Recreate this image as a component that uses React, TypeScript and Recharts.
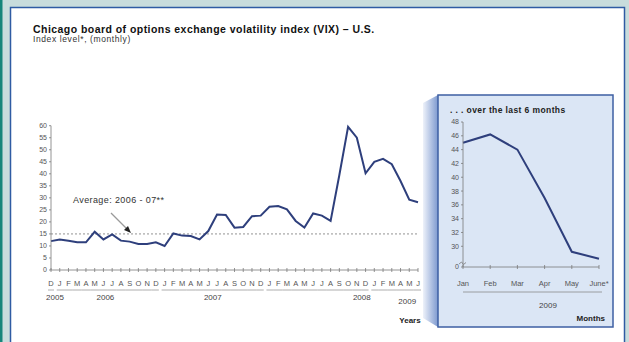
import React from 'react';
import {
  LineChart,
  Line,
  XAxis,
  YAxis,
  ReferenceLine
} from 'recharts';

// Monthly VIX index level, Dec 2005 - Jun 2009
const MONTH_INITIALS = ['J', 'F', 'M', 'A', 'M', 'J', 'J', 'A', 'S', 'O', 'N', 'D'];
const YEARS = ['2005', '2006', '2007', '2008', '2009'];
const VIX_2005 = [12.0]; // December only
const VIX_2006 = [12.7, 12.2, 11.5, 11.5, 15.9, 12.7, 14.8, 12.2, 11.8, 10.8, 10.8, 11.5];
const VIX_2007 = [10.0, 15.2, 14.3, 14.1, 12.7, 16.2, 23.1, 22.9, 17.6, 17.9, 22.4, 22.6];
const VIX_2008 = [26.3, 26.6, 25.2, 20.4, 17.7, 23.5, 22.6, 20.4, 39.5, 59.5, 55.0, 40.2];
const VIX_2009 = [45.0, 46.2, 44.0, 37.0, 29.2, 28.2];
const AVERAGE_2006_07 = 15;

const MAIN_TICKS = [0, 5, 10, 15, 20, 25, 30, 35, 40, 45, 50, 55, 60];

// inset: first half of 2009, on a broken axis (bottom tick reads 0)
const INSET_MONTHS = ['Jan', 'Feb', 'Mar', 'Apr', 'May', 'June*'];
const INSET_TICKS = [27, 30, 32, 34, 36, 38, 40, 42, 44, 46, 48];

const FONT = '"Liberation Sans", Arial, Helvetica, sans-serif';
const NAVY = '#2e3f7c';
const AXIS = '#7a7a7a';
const LABEL = '#555';

type Row = { key: string; letter: string; year: string; vix: number };

const rows: Row[] = [];
[VIX_2005, VIX_2006, VIX_2007, VIX_2008, VIX_2009].forEach((values, yi) => {
  const firstMonth = yi === 0 ? 11 : 0;
  values.forEach((v, k) => {
    const m = firstMonth + k;
    rows.push({ key: `${YEARS[yi]}-${m + 1}`, letter: MONTH_INITIALS[m], year: YEARS[yi], vix: v });
  });
});

const insetRows = INSET_MONTHS.map((m, i) => ({ month: m, vix: VIX_2009[i] }));

// main plot frame
const PLOT_LEFT = 51;
const PLOT_RIGHT = 418;
const PLOT_TOP = 125.7;
const PLOT_BOTTOM = 270;
const STEP = (PLOT_RIGHT - PLOT_LEFT) / (rows.length - 1);

// where each year caption sits relative to a month tick
const YEAR_CAPTION: Record<string, { at: number; dx: number; dy: number }> = {
  '2005': { at: 0, dx: 4, dy: 0 },
  '2006': { at: 6, dx: 2, dy: 0 },
  '2007': { at: 18, dx: 4.5, dy: 0 },
  '2008': { at: 35, dx: 5, dy: 0 },
  '2009': { at: 41, dx: -2, dy: 4 }
};

function MonthTick(props: any) {
  const { x, payload } = props;
  const i = payload.index ?? props.index;
  const row = rows[i];
  if (!row) return null;
  const first = i === 0 || rows[i - 1].year !== row.year;
  const last = i === rows.length - 1 || rows[i + 1].year !== row.year;
  const x1 = first ? x - 3 : x - STEP / 2;
  const x2 = last ? x + 3 : x + STEP / 2;
  const cap = YEAR_CAPTION[row.year];
  return (
    <g>
      <line x1={x} x2={x} y1={PLOT_BOTTOM - 2} y2={PLOT_BOTTOM + 2} stroke={AXIS} strokeWidth={0.8} />
      <text x={x} y={PLOT_BOTTOM + 15.5} textAnchor="middle" fontSize={7.5} fill={LABEL} fontFamily={FONT}>
        {row.letter}
      </text>
      <line x1={x1} x2={x2} y1={PLOT_BOTTOM + 20} y2={PLOT_BOTTOM + 20} stroke="#9a9a9a" strokeWidth={0.8} />
      {cap && cap.at === i && (
        <text x={x + cap.dx} y={PLOT_BOTTOM + 29.5 + cap.dy} textAnchor="middle" fontSize={8} fill="#444" fontFamily={FONT}>
          {row.year}
        </text>
      )}
    </g>
  );
}

// inset frame, local to the inset chart
const IN_W = 175;
const IN_H = 232;
const IN_LEFT = 25;
const IN_RIGHT = 161;
const IN_TOP = 27;
const IN_BOTTOM = 172;

function InsetMonthTick(props: any) {
  const { x, payload } = props;
  return (
    <g>
      <line x1={x} x2={x} y1={IN_BOTTOM - 2} y2={IN_BOTTOM + 2} stroke={AXIS} strokeWidth={0.8} />
      <text x={x} y={IN_BOTTOM + 18.5} textAnchor="middle" fontSize={7.5} fill={LABEL} fontFamily={FONT}>
        {payload.value}
      </text>
    </g>
  );
}

export default function App() {
  return (
    <div style={{ position: 'absolute', left: 0, top: 0, width: 629, height: 342, overflow: 'hidden', fontFamily: FONT }}>
      {/* frame, titles and inset panel backdrop */}
      <svg width={629} height={342} style={{ position: 'absolute', left: 0, top: 0 }}>
        <defs>
          <linearGradient id="callout" x1="0" x2="1" y1="0" y2="0">
            <stop offset="0" stopColor="#eef2fa" />
            <stop offset="1" stopColor="#7d99cf" />
          </linearGradient>
        </defs>
        <rect x={0} y={0} width={629} height={342} fill="#c8dcdc" />
        <rect x={0} y={0} width={2.5} height={342} fill="#16857a" />
        <rect x={10.5} y={7.5} width={614} height={340} fill="#fff" stroke="#2f5ba3" strokeWidth={1.5} />
        <text x={33} y={33} fontSize={10.5} letterSpacing={0.45} fontWeight="bold" fill="#111">
          Chicago board of options exchange volatility index (VIX) – U.S.
        </text>
        <text x={33} y={42} fontSize={8.5} letterSpacing={0.6} fill="#333">
          Index level*, (monthly)
        </text>
        <polygon points="423,103 438,95 438,327 423,318" fill="url(#callout)" />
        <rect x={438} y={95} width={175} height={232} fill="#dbe6f5" stroke="#3e5fa3" strokeWidth={1.5} />
        <text x={450} y={113} fontSize={8.5} letterSpacing={0.4} fontWeight="bold" fill="#222">
          . . . over the last 6 months
        </text>
        <line x1={463} x2={602} y1={292} y2={292} stroke="#8a8a8a" strokeWidth={0.8} />
        <text x={548} y={307.5} textAnchor="middle" fontSize={8} fill="#444">2009</text>
        <text x={605} y={320.5} textAnchor="end" fontSize={8} fontWeight="bold" fill="#222">Months</text>
        <text x={410} y={322.5} textAnchor="middle" fontSize={8} fontWeight="bold" fill="#222">Years</text>
      </svg>

      <div style={{ position: 'absolute', left: 0, top: 0 }}>
        <LineChart
          width={430}
          height={342}
          data={rows}
          margin={{ top: PLOT_TOP, right: 430 - PLOT_RIGHT, bottom: 342 - PLOT_BOTTOM - 30, left: PLOT_LEFT - 20 }}
        >
          <XAxis
            dataKey="key"
            interval={0}
            height={30}
            tickLine={false}
            tickSize={0}
            tickMargin={0}
            axisLine={{ stroke: AXIS, strokeWidth: 0.8 }}
            tick={<MonthTick />}
          />
          <YAxis
            width={20}
            domain={[0, 60]}
            ticks={MAIN_TICKS}
            interval={0}
            tickSize={2}
            tickMargin={2}
            axisLine={{ stroke: AXIS, strokeWidth: 0.8 }}
            tickLine={{ stroke: AXIS, strokeWidth: 0.8 }}
            tick={{ fontSize: 7, fill: LABEL, fontFamily: FONT }}
          />
          <ReferenceLine y={AVERAGE_2006_07} stroke="#777" strokeWidth={0.8} strokeDasharray="2 2" />
          <Line
            type="linear"
            dataKey="vix"
            stroke={NAVY}
            strokeWidth={2}
            dot={false}
            isAnimationActive={false}
          />
        </LineChart>
      </div>

      <div style={{ position: 'absolute', left: 438, top: 95 }}>
        <LineChart
          width={IN_W}
          height={IN_H}
          data={insetRows}
          margin={{ top: IN_TOP, right: IN_W - IN_RIGHT, bottom: IN_H - IN_BOTTOM - 20, left: IN_LEFT - 18 }}
        >
          <XAxis
            dataKey="month"
            interval={0}
            height={20}
            tickLine={false}
            tickSize={0}
            tickMargin={0}
            axisLine={{ stroke: AXIS, strokeWidth: 0.8 }}
            tick={<InsetMonthTick />}
          />
          <YAxis
            width={18}
            domain={[27, 48]}
            ticks={INSET_TICKS}
            interval={0}
            allowDataOverflow
            tickSize={2}
            tickMargin={2}
            axisLine={{ stroke: AXIS, strokeWidth: 0.8 }}
            tickLine={{ stroke: AXIS, strokeWidth: 0.8 }}
            tickFormatter={(v: number) => (v === 27 ? '0' : String(v))}
            tick={{ fontSize: 7, fill: LABEL, fontFamily: FONT }}
          />
          <Line
            type="linear"
            dataKey="vix"
            stroke={NAVY}
            strokeWidth={2}
            dot={false}
            isAnimationActive={false}
          />
        </LineChart>
      </div>

      {/* average annotation and axis break mark */}
      <svg width={629} height={342} style={{ position: 'absolute', left: 0, top: 0, pointerEvents: 'none' }}>
        <text x={73} y={203} fontSize={9} letterSpacing={0.4} fill="#333" fontFamily={FONT}>
          Average: 2006 - 07**
        </text>
        <line x1={111} y1={213} x2={127} y2={229} stroke="#9a9a9a" strokeWidth={1.2} />
        <polygon points="131,233 124,230 128,226" fill="#222" />
        <path d="M459,264 l2.5,-2 l2,2.5 l2.5,-2" fill="none" stroke="#777" strokeWidth={0.8} />
      </svg>
    </div>
  );
}
